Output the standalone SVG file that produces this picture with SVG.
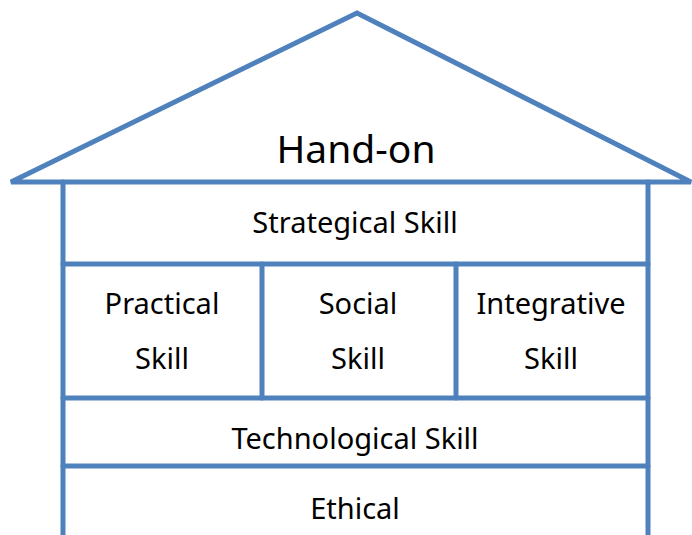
<svg xmlns="http://www.w3.org/2000/svg" width="692" height="535" viewBox="0 0 692 535">
<style>
.ln{stroke:#4F81BD;stroke-width:5;fill:none;stroke-linecap:round;stroke-linejoin:miter}
.t{font-family:"Noto Sans","DejaVu Sans",sans-serif;font-size:29px;fill:#000;text-anchor:middle}
.h{font-size:39px}
</style>
<rect width="692" height="535" fill="#fff"/>
<g id="roof">
<path class="ln" d="M11,182 L357,13 L691,182 Z"/>
<text class="t h" x="356" y="163">Hand-on</text>
</g>
<g id="frame">
<line class="ln" x1="63" y1="182" x2="63" y2="540"/>
<line class="ln" x1="648" y1="182" x2="648" y2="540"/>
</g>
<g id="strategical">
<line class="ln" x1="63" y1="264" x2="648" y2="264"/>
<text class="t" x="355" y="233">Strategical Skill</text>
</g>
<g id="practical">
<line class="ln" x1="262" y1="264" x2="262" y2="398"/>
<text class="t" x="162" y="314">Practical</text>
<text class="t" x="162" y="369">Skill</text>
</g>
<g id="social">
<line class="ln" x1="456" y1="264" x2="456" y2="398"/>
<text class="t" x="358" y="314">Social</text>
<text class="t" x="358" y="369">Skill</text>
</g>
<g id="integrative">
<text class="t" x="551" y="314">Integrative</text>
<text class="t" x="551" y="369">Skill</text>
</g>
<g id="technological">
<line class="ln" x1="63" y1="398" x2="648" y2="398"/>
<text class="t" x="355" y="449">Technological Skill</text>
</g>
<g id="ethical">
<line class="ln" x1="63" y1="466" x2="648" y2="466"/>
<text class="t" x="355" y="519">Ethical</text>
</g>
</svg>
